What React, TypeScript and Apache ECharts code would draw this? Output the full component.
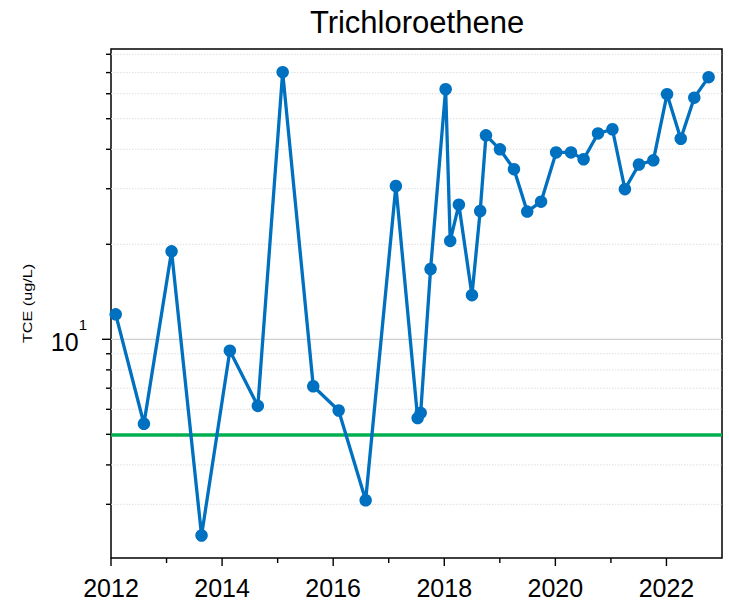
import React, { useEffect, useRef } from "react";
import * as echarts from "echarts";

// ---- data ----
const sampleDates = [
  "2012-02-01", "2012-08-05", "2013-02-03", "2013-08-19", "2014-02-21", "2014-08-24",
  "2015-02-03", "2015-08-23", "2016-02-06", "2016-08-02", "2017-02-17", "2017-07-10",
  "2017-07-30", "2017-10-03", "2018-01-10", "2018-02-09", "2018-04-07", "2018-07-02",
  "2018-08-25", "2018-10-02", "2019-01-02", "2019-04-04", "2019-06-30", "2019-09-29",
  "2020-01-06", "2020-04-13", "2020-07-05", "2020-10-08", "2021-01-11", "2021-04-03",
  "2021-07-04", "2021-10-07", "2022-01-05", "2022-04-05", "2022-07-03", "2022-10-05",
];
const tceValues = [
  12.0, 5.4, 19.0, 2.39, 9.2, 6.15,
  70.2, 7.1, 5.95, 3.09, 30.6, 5.63,
  5.85, 16.7, 62.0, 20.5, 26.7, 13.8,
  25.5, 44.3, 40.0, 34.6, 25.4, 27.3,
  39.1, 39.1, 37.2, 44.9, 46.3, 29.9,
  35.8, 36.9, 59.8, 43.2, 58.3, 67.7,
];
const mclValue = 5;
const yMajorTicks = [10];
const yMinorTicks = [3, 4, 5, 6, 7, 8, 9, 20, 30, 40, 50, 60, 70, 80];
const xTickYears = [2012, 2013, 2014, 2015, 2016, 2017, 2018, 2019, 2020, 2021, 2022];
const xMin = 2012;
const xMax = 2023;
const yMin = 2.028;
const yMax = 83.15;
const titleText = "Trichloroethene";
const yAxisName = "TCE (ug/L)";

const FONT = "'Liberation Sans', Arial, Helvetica, sans-serif";

function toDecimalYear(s: string): number {
  const [y, m, d] = s.split("-").map(Number);
  const start = Date.UTC(y, 0, 1);
  const end = Date.UTC(y + 1, 0, 1);
  return y + (Date.UTC(y, m - 1, d) - start) / (end - start);
}

export default function App() {
  const ref = useRef<HTMLDivElement>(null);

  useEffect(() => {
    if (!ref.current) return;
    const chart = echarts.init(ref.current, undefined, { renderer: "svg" });

    const lineData = sampleDates.map((d, i) => [toDecimalYear(d), tceValues[i]]);
    const yGridData = [
      ...yMinorTicks.map((v) => [xMin, v, 0]),
      ...yMajorTicks.map((v) => [xMin, v, 1]),
    ];
    const xTickData = xTickYears.map((yr) => [yr, 10]);

    chart.setOption({
      animation: false,
      backgroundColor: "#ffffff",
      textStyle: { fontFamily: FONT },
      title: {
        text: titleText,
        left: 417,
        top: 7,
        padding: 0,
        textAlign: "center",
        textStyle: {
          fontFamily: FONT,
          fontSize: 31,
          fontWeight: "normal",
          color: "#000",
          lineHeight: 31,
        },
      },
      grid: {
        left: 111,
        right: 7,
        top: 49,
        bottom: 43,
        show: true,
        borderColor: "#000",
        borderWidth: 1.5,
        backgroundColor: "transparent",
      },
      xAxis: {
        type: "value",
        min: xMin,
        max: xMax,
        interval: 2,
        axisLine: { show: false },
        axisTick: { show: false },
        splitLine: { show: false },
        axisLabel: {
          margin: 17,
          fontSize: 25,
          color: "#000",
          fontFamily: FONT,
          lineHeight: 25,
          showMaxLabel: false,
          formatter: (v: number) => (Math.round(v) % 2 === 0 && Math.abs(v - Math.round(v)) < 1e-6 && v < xMax ? String(Math.round(v)) : ""),
        },
      },
      yAxis: {
        type: "log",
        logBase: 10,
        min: yMin,
        max: yMax,
        axisLine: { show: false },
        axisTick: { show: false },
        splitLine: { show: false },
        minorTick: { show: false },
        axisLabel: {
          margin: 24,
          fontSize: 25,
          color: "#000",
          fontFamily: FONT,
          formatter: (v: number) => {
            const e = Math.log10(v);
            if (Math.abs(e - Math.round(e)) < 1e-6) {
              return "{b|10}{s|" + Math.round(e) + "}";
            }
            return "";
          },
          rich: {
            b: {
              fontSize: 25,
              height: 25,
              lineHeight: 44,
              padding: [0, 0, 7, 0],
              verticalAlign: "bottom",
              fontFamily: FONT,
              color: "#000",
            },
            s: {
              fontSize: 15,
              height: 15,
              lineHeight: 15,
              verticalAlign: "top",
              fontFamily: FONT,
              color: "#000",
            },
          },
        },
      },
      graphic: [
        {
          type: "text",
          x: 27.5,
          y: 303.5,
          rotation: Math.PI / 2,
          scaleX: 1.35,
          style: {
            text: yAxisName,
            fontSize: 12,
            fontFamily: FONT,
            fill: "#000",
            align: "center",
            verticalAlign: "middle",
            textAlign: "center",
            textVerticalAlign: "middle",
          },
        },
      ],
      series: [
        {
          type: "custom",
          name: "ygrid",
          z: 1,
          clip: false,
          silent: true,
          encode: { x: 0, y: 1 },
          data: yGridData,
          renderItem: (params: any, api: any) => {
            const v = api.value(1);
            const major = api.value(2) === 1;
            const p = api.coord([xMin, v]);
            const cs = params.coordSys;
            return {
              type: "group",
              children: [
                {
                  type: "line",
                  shape: { x1: cs.x, y1: p[1], x2: cs.x + cs.width, y2: p[1] },
                  style: major
                    ? { stroke: "#cfcfcf", lineWidth: 1.2 }
                    : { stroke: "#dedede", lineWidth: 1, lineDash: [1.5, 1.5] },
                },
                {
                  type: "line",
                  shape: { x1: cs.x - (major ? 9 : 5), y1: p[1], x2: cs.x, y2: p[1] },
                  style: { stroke: "#000", lineWidth: 1.4 },
                },
              ],
            };
          },
        },
        {
          type: "custom",
          name: "xticks",
          z: 1,
          clip: false,
          silent: true,
          encode: { x: 0, y: 1 },
          data: xTickData,
          renderItem: (params: any, api: any) => {
            const yr = api.value(0);
            const p = api.coord([yr, 10]);
            const cs = params.coordSys;
            const bottom = cs.y + cs.height;
            const len = Math.round(yr) % 2 === 0 ? 8 : 5;
            return {
              type: "line",
              shape: { x1: p[0], y1: bottom, x2: p[0], y2: bottom + len },
              style: { stroke: "#000", lineWidth: 1.4 },
            };
          },
        },
        {
          type: "line",
          name: "TCE",
          z: 3,
          data: lineData,
          symbol: "circle",
          symbolSize: 12.5,
          itemStyle: { color: "#0070C0" },
          lineStyle: { color: "#0070C0", width: 3.3 },
          markLine: {
            silent: true,
            symbol: ["none", "none"],
            label: { show: false },
            lineStyle: { color: "#00B050", width: 3.6, type: "solid" },
            data: [{ yAxis: mclValue }],
            z: 2,
          },
        },
      ],
    });

    return () => {
      chart.dispose();
    };
  }, []);

  return (
    <div
      ref={ref}
      style={{ position: "absolute", left: 0, top: 0, width: 729, height: 601 }}
    />
  );
}
